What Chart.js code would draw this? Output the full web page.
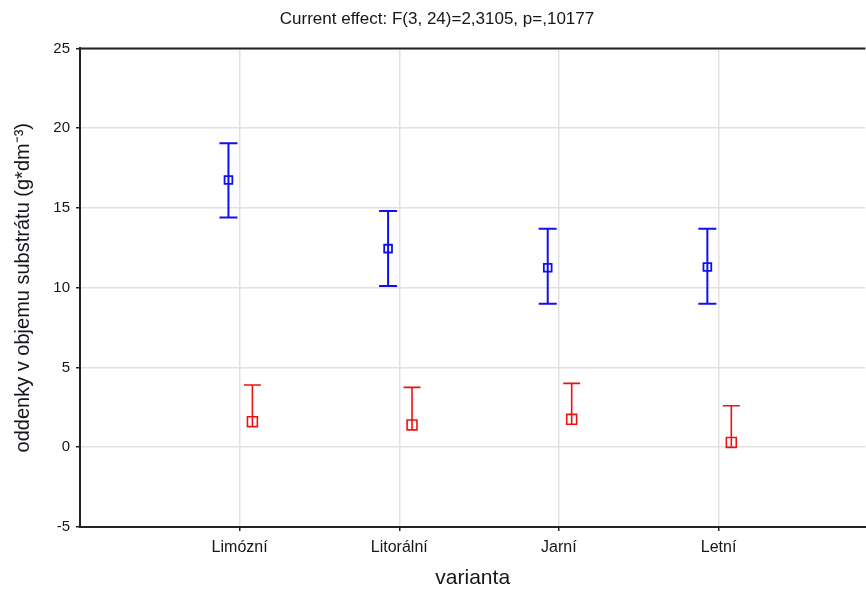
<!DOCTYPE html>
<html>
<head>
<meta charset="utf-8">
<script src="https://cdn.jsdelivr.net/npm/chart.js@4/dist/chart.umd.min.js"></script>
<style>
  html, body { margin: 0; padding: 0; background: #fff; overflow: hidden; }
  /* plot runs past the right edge of the window, as in the source */
  #wrap { width: 874px; height: 589px; }
</style>
</head>
<body>
<div id="wrap"><canvas id="chart"></canvas></div>
<script>
'use strict'

const categories = ['Limózní', 'Litorální', 'Jarní', 'Letní'];

// blue series: mean and confidence interval
const blueMean = [16.75, 12.45, 11.25, 11.3];
const blueLow  = [14.4, 10.1, 9.0, 9.0];
const blueHigh = [19.05, 14.8, 13.7, 13.7];

// red series: mean and upper whisker only
const redMean = [1.6, 1.4, 1.75, 0.3];
const redHigh = [3.9, 3.75, 4.0, 2.6];

const yTicks = [-5, 0, 5, 10, 15, 20, 25];

const textColor = '#15151c';
const font = 'Liberation Sans, Arial, sans-serif';

const points = (means, shift) => means.map((m, i) => ({ x: i + 1 + shift, y: m }));

// whiskers drawn under the markers
const errorBars = {
  id: 'errorBars',
  beforeDatasetsDraw(chart) {
    const { ctx, scales: { x, y } } = chart;
    chart.data.datasets.forEach(ds => {
      ctx.save();
      ctx.strokeStyle = ds.borderColor;
      ctx.lineWidth = ds.whiskerWidth;
      ds.data.forEach((p, i) => {
        const px = x.getPixelForValue(p.x);
        const top = y.getPixelForValue(ds.high[i]);
        const bot = ds.low ? y.getPixelForValue(ds.low[i]) : y.getPixelForValue(p.y) + ds.pointRadius * 0.7;
        ctx.beginPath();
        ctx.moveTo(px, top);
        ctx.lineTo(px, bot);
        ctx.moveTo(px - ds.cap, top);
        ctx.lineTo(px + ds.cap, top);
        if (ds.low) {
          ctx.moveTo(px - ds.cap, bot);
          ctx.lineTo(px + ds.cap, bot);
        }
        ctx.stroke();
      });
      ctx.restore();
    });
  }
};

// top frame line
const frameTop = {
  id: 'frameTop',
  afterDatasetsDraw(chart) {
    const { ctx, chartArea: a } = chart;
    ctx.save();
    ctx.strokeStyle = '#222';
    ctx.lineWidth = 2;
    ctx.beginPath();
    ctx.moveTo(a.left, a.top);
    ctx.lineTo(a.right, a.top);
    ctx.stroke();
    ctx.restore();
  }
};

const data = {
  datasets: [{
    label: 'blue',
    data: points(blueMean, -0.07),
    low: blueLow,
    high: blueHigh,
    cap: 9,
    whiskerWidth: 2,
    borderColor: '#1010f0',
    backgroundColor: 'rgba(0,0,0,0)',
    pointStyle: 'rect',
    pointRadius: 5.5,
    pointBorderWidth: 1.8,
    showLine: false
  }, {
    label: 'red',
    data: points(redMean, 0.08),
    high: redHigh,
    cap: 8.5,
    whiskerWidth: 1.6,
    borderColor: '#f01010',
    backgroundColor: 'rgba(0,0,0,0)',
    pointStyle: 'rect',
    pointRadius: 7,
    pointBorderWidth: 1.6,
    showLine: false
  }]
};

const options = {
  responsive: true,
  maintainAspectRatio: false,
  animation: false,
  layout: { padding: 0 },
  plugins: {
    legend: { display: false },
    tooltip: { enabled: false },
    title: {
      display: true,
      text: 'Current effect: F(3, 24)=2,3105, p=,10177',
      color: textColor,
      font: { family: font, size: 17, weight: 'normal', lineHeight: 1.2 },
      padding: { top: 9, bottom: 19 }
    }
  },
  scales: {
    x: {
      type: 'linear',
      min: 0,
      max: 4.92,
      afterBuildTicks: axis => { axis.ticks = categories.map((c, i) => ({ value: i + 1 })); },
      afterFit: axis => { axis.height = 62; },
      ticks: {
        callback: v => categories[v - 1],
        color: textColor,
        font: { family: font, size: 16 },
        padding: 7,
        maxRotation: 0
      },
      grid: { color: '#e3dfe3', lineWidth: 1.5, tickColor: '#222', tickLength: 4 },
      border: { color: '#222', width: 2 },
      title: {
        display: true,
        text: 'varianta',
        color: textColor,
        font: { family: font, size: 21, lineHeight: 1 },
        padding: 0
      }
    },
    y: {
      min: yTicks[0],
      max: yTicks[yTicks.length - 1],
      afterBuildTicks: axis => { axis.ticks = yTicks.map(v => ({ value: v })); },
      afterFit: axis => { axis.width = 80; },
      ticks: {
        color: textColor,
        font: { family: font, size: 15 },
        padding: 6
      },
      grid: { color: '#e3dfe3', lineWidth: 1.5, tickColor: '#222', tickLength: 4 },
      border: { color: '#222', width: 2 },
      title: {
        display: true,
        text: 'oddenky v objemu substrátu (g*dm⁻³)',
        color: textColor,
        font: { family: font, size: 20, lineHeight: 1.2 },
        padding: { top: 11, bottom: 0 }
      }
    }
  }
};

const chart = new Chart(document.getElementById('chart'), {
  type: 'scatter',
  data: data,
  options: options,
  plugins: [errorBars, frameTop]
});
</script>
</body>
</html>
